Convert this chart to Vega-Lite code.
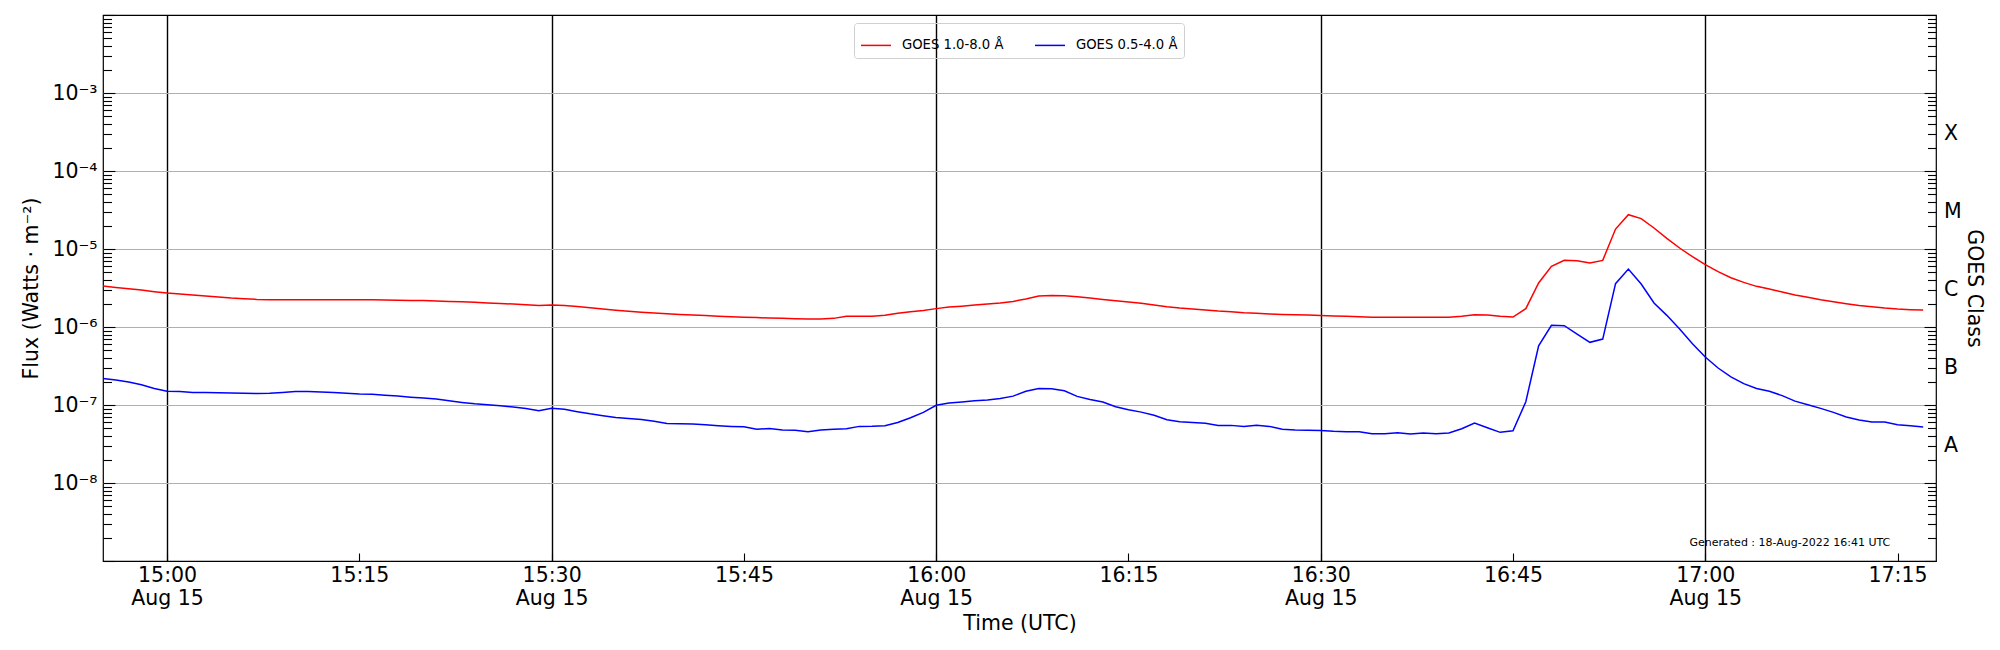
{
  "$schema": "https://vega.github.io/schema/vega-lite/v6.json",
  "width": 1833,
  "height": 546,
  "autosize": {"type": "none"},
  "padding": {"left": 103, "top": 15, "right": 64, "bottom": 89},
  "config": {
    "font": "DejaVu Sans",
    "view": {"stroke": "black", "strokeWidth": 1.2},
    "axis": {
      "domain": false,
      "labelFont": "DejaVu Sans",
      "titleFont": "DejaVu Sans",
      "labelColor": "black",
      "titleColor": "black",
      "titleFontWeight": "normal",
      "tickColor": "black",
      "tickWidth": 1.1
    }
  },
  "data": {
    "values": [
      {"t": "2022-08-15T14:55:00Z", "xrsb": 3.35e-6, "xrsa": 2.19e-7},
      {"t": "2022-08-15T14:56:00Z", "xrsb": 3.22e-6, "xrsa": 2.09e-7},
      {"t": "2022-08-15T14:57:00Z", "xrsb": 3.10e-6, "xrsa": 1.97e-7},
      {"t": "2022-08-15T14:58:00Z", "xrsb": 2.98e-6, "xrsa": 1.82e-7},
      {"t": "2022-08-15T14:59:00Z", "xrsb": 2.84e-6, "xrsa": 1.63e-7},
      {"t": "2022-08-15T15:00:00Z", "xrsb": 2.72e-6, "xrsa": 1.50e-7},
      {"t": "2022-08-15T15:01:00Z", "xrsb": 2.65e-6, "xrsa": 1.49e-7},
      {"t": "2022-08-15T15:02:00Z", "xrsb": 2.57e-6, "xrsa": 1.45e-7},
      {"t": "2022-08-15T15:03:00Z", "xrsb": 2.49e-6, "xrsa": 1.45e-7},
      {"t": "2022-08-15T15:04:00Z", "xrsb": 2.42e-6, "xrsa": 1.44e-7},
      {"t": "2022-08-15T15:05:00Z", "xrsb": 2.35e-6, "xrsa": 1.43e-7},
      {"t": "2022-08-15T15:06:00Z", "xrsb": 2.31e-6, "xrsa": 1.41e-7},
      {"t": "2022-08-15T15:07:00Z", "xrsb": 2.26e-6, "xrsa": 1.40e-7},
      {"t": "2022-08-15T15:08:00Z", "xrsb": 2.24e-6, "xrsa": 1.41e-7},
      {"t": "2022-08-15T15:09:00Z", "xrsb": 2.24e-6, "xrsa": 1.45e-7},
      {"t": "2022-08-15T15:10:00Z", "xrsb": 2.24e-6, "xrsa": 1.49e-7},
      {"t": "2022-08-15T15:11:00Z", "xrsb": 2.24e-6, "xrsa": 1.49e-7},
      {"t": "2022-08-15T15:12:00Z", "xrsb": 2.24e-6, "xrsa": 1.47e-7},
      {"t": "2022-08-15T15:13:00Z", "xrsb": 2.23e-6, "xrsa": 1.45e-7},
      {"t": "2022-08-15T15:14:00Z", "xrsb": 2.24e-6, "xrsa": 1.41e-7},
      {"t": "2022-08-15T15:15:00Z", "xrsb": 2.23e-6, "xrsa": 1.38e-7},
      {"t": "2022-08-15T15:16:00Z", "xrsb": 2.23e-6, "xrsa": 1.37e-7},
      {"t": "2022-08-15T15:17:00Z", "xrsb": 2.22e-6, "xrsa": 1.33e-7},
      {"t": "2022-08-15T15:18:00Z", "xrsb": 2.21e-6, "xrsa": 1.30e-7},
      {"t": "2022-08-15T15:19:00Z", "xrsb": 2.19e-6, "xrsa": 1.26e-7},
      {"t": "2022-08-15T15:20:00Z", "xrsb": 2.18e-6, "xrsa": 1.23e-7},
      {"t": "2022-08-15T15:21:00Z", "xrsb": 2.15e-6, "xrsa": 1.19e-7},
      {"t": "2022-08-15T15:22:00Z", "xrsb": 2.13e-6, "xrsa": 1.13e-7},
      {"t": "2022-08-15T15:23:00Z", "xrsb": 2.10e-6, "xrsa": 1.08e-7},
      {"t": "2022-08-15T15:24:00Z", "xrsb": 2.07e-6, "xrsa": 1.04e-7},
      {"t": "2022-08-15T15:25:00Z", "xrsb": 2.03e-6, "xrsa": 1.01e-7},
      {"t": "2022-08-15T15:26:00Z", "xrsb": 2.00e-6, "xrsa": 9.8e-8},
      {"t": "2022-08-15T15:27:00Z", "xrsb": 1.97e-6, "xrsa": 9.4e-8},
      {"t": "2022-08-15T15:28:00Z", "xrsb": 1.93e-6, "xrsa": 9.0e-8},
      {"t": "2022-08-15T15:29:00Z", "xrsb": 1.89e-6, "xrsa": 8.45e-8},
      {"t": "2022-08-15T15:30:00Z", "xrsb": 1.91e-6, "xrsa": 9.1e-8},
      {"t": "2022-08-15T15:31:00Z", "xrsb": 1.88e-6, "xrsa": 8.8e-8},
      {"t": "2022-08-15T15:32:00Z", "xrsb": 1.83e-6, "xrsa": 8.2e-8},
      {"t": "2022-08-15T15:33:00Z", "xrsb": 1.77e-6, "xrsa": 7.7e-8},
      {"t": "2022-08-15T15:34:00Z", "xrsb": 1.70e-6, "xrsa": 7.3e-8},
      {"t": "2022-08-15T15:35:00Z", "xrsb": 1.64e-6, "xrsa": 6.9e-8},
      {"t": "2022-08-15T15:36:00Z", "xrsb": 1.59e-6, "xrsa": 6.7e-8},
      {"t": "2022-08-15T15:37:00Z", "xrsb": 1.55e-6, "xrsa": 6.5e-8},
      {"t": "2022-08-15T15:38:00Z", "xrsb": 1.51e-6, "xrsa": 6.17e-8},
      {"t": "2022-08-15T15:39:00Z", "xrsb": 1.48e-6, "xrsa": 5.8e-8},
      {"t": "2022-08-15T15:40:00Z", "xrsb": 1.45e-6, "xrsa": 5.75e-8},
      {"t": "2022-08-15T15:41:00Z", "xrsb": 1.42e-6, "xrsa": 5.7e-8},
      {"t": "2022-08-15T15:42:00Z", "xrsb": 1.40e-6, "xrsa": 5.58e-8},
      {"t": "2022-08-15T15:43:00Z", "xrsb": 1.37e-6, "xrsa": 5.43e-8},
      {"t": "2022-08-15T15:44:00Z", "xrsb": 1.35e-6, "xrsa": 5.32e-8},
      {"t": "2022-08-15T15:45:00Z", "xrsb": 1.33e-6, "xrsa": 5.25e-8},
      {"t": "2022-08-15T15:46:00Z", "xrsb": 1.32e-6, "xrsa": 4.88e-8},
      {"t": "2022-08-15T15:47:00Z", "xrsb": 1.30e-6, "xrsa": 5.0e-8},
      {"t": "2022-08-15T15:48:00Z", "xrsb": 1.29e-6, "xrsa": 4.77e-8},
      {"t": "2022-08-15T15:49:00Z", "xrsb": 1.28e-6, "xrsa": 4.75e-8},
      {"t": "2022-08-15T15:50:00Z", "xrsb": 1.27e-6, "xrsa": 4.55e-8},
      {"t": "2022-08-15T15:51:00Z", "xrsb": 1.27e-6, "xrsa": 4.77e-8},
      {"t": "2022-08-15T15:52:00Z", "xrsb": 1.29e-6, "xrsa": 4.9e-8},
      {"t": "2022-08-15T15:53:00Z", "xrsb": 1.37e-6, "xrsa": 4.96e-8},
      {"t": "2022-08-15T15:54:00Z", "xrsb": 1.37e-6, "xrsa": 5.32e-8},
      {"t": "2022-08-15T15:55:00Z", "xrsb": 1.37e-6, "xrsa": 5.35e-8},
      {"t": "2022-08-15T15:56:00Z", "xrsb": 1.41e-6, "xrsa": 5.43e-8},
      {"t": "2022-08-15T15:57:00Z", "xrsb": 1.50e-6, "xrsa": 5.98e-8},
      {"t": "2022-08-15T15:58:00Z", "xrsb": 1.57e-6, "xrsa": 6.87e-8},
      {"t": "2022-08-15T15:59:00Z", "xrsb": 1.63e-6, "xrsa": 8.05e-8},
      {"t": "2022-08-15T16:00:00Z", "xrsb": 1.72e-6, "xrsa": 9.9e-8},
      {"t": "2022-08-15T16:01:00Z", "xrsb": 1.80e-6, "xrsa": 1.06e-7},
      {"t": "2022-08-15T16:02:00Z", "xrsb": 1.85e-6, "xrsa": 1.09e-7},
      {"t": "2022-08-15T16:03:00Z", "xrsb": 1.91e-6, "xrsa": 1.13e-7},
      {"t": "2022-08-15T16:04:00Z", "xrsb": 1.97e-6, "xrsa": 1.16e-7},
      {"t": "2022-08-15T16:05:00Z", "xrsb": 2.03e-6, "xrsa": 1.21e-7},
      {"t": "2022-08-15T16:06:00Z", "xrsb": 2.13e-6, "xrsa": 1.30e-7},
      {"t": "2022-08-15T16:07:00Z", "xrsb": 2.28e-6, "xrsa": 1.50e-7},
      {"t": "2022-08-15T16:08:00Z", "xrsb": 2.49e-6, "xrsa": 1.63e-7},
      {"t": "2022-08-15T16:09:00Z", "xrsb": 2.54e-6, "xrsa": 1.62e-7},
      {"t": "2022-08-15T16:10:00Z", "xrsb": 2.52e-6, "xrsa": 1.52e-7},
      {"t": "2022-08-15T16:11:00Z", "xrsb": 2.44e-6, "xrsa": 1.29e-7},
      {"t": "2022-08-15T16:12:00Z", "xrsb": 2.35e-6, "xrsa": 1.18e-7},
      {"t": "2022-08-15T16:13:00Z", "xrsb": 2.26e-6, "xrsa": 1.09e-7},
      {"t": "2022-08-15T16:14:00Z", "xrsb": 2.17e-6, "xrsa": 9.5e-8},
      {"t": "2022-08-15T16:15:00Z", "xrsb": 2.09e-6, "xrsa": 8.7e-8},
      {"t": "2022-08-15T16:16:00Z", "xrsb": 2.01e-6, "xrsa": 8.1e-8},
      {"t": "2022-08-15T16:17:00Z", "xrsb": 1.91e-6, "xrsa": 7.37e-8},
      {"t": "2022-08-15T16:18:00Z", "xrsb": 1.82e-6, "xrsa": 6.48e-8},
      {"t": "2022-08-15T16:19:00Z", "xrsb": 1.75e-6, "xrsa": 6.1e-8},
      {"t": "2022-08-15T16:20:00Z", "xrsb": 1.70e-6, "xrsa": 5.98e-8},
      {"t": "2022-08-15T16:21:00Z", "xrsb": 1.65e-6, "xrsa": 5.82e-8},
      {"t": "2022-08-15T16:22:00Z", "xrsb": 1.60e-6, "xrsa": 5.48e-8},
      {"t": "2022-08-15T16:23:00Z", "xrsb": 1.57e-6, "xrsa": 5.48e-8},
      {"t": "2022-08-15T16:24:00Z", "xrsb": 1.52e-6, "xrsa": 5.32e-8},
      {"t": "2022-08-15T16:25:00Z", "xrsb": 1.50e-6, "xrsa": 5.48e-8},
      {"t": "2022-08-15T16:26:00Z", "xrsb": 1.47e-6, "xrsa": 5.32e-8},
      {"t": "2022-08-15T16:27:00Z", "xrsb": 1.45e-6, "xrsa": 4.88e-8},
      {"t": "2022-08-15T16:28:00Z", "xrsb": 1.44e-6, "xrsa": 4.77e-8},
      {"t": "2022-08-15T16:29:00Z", "xrsb": 1.42e-6, "xrsa": 4.75e-8},
      {"t": "2022-08-15T16:30:00Z", "xrsb": 1.40e-6, "xrsa": 4.7e-8},
      {"t": "2022-08-15T16:31:00Z", "xrsb": 1.38e-6, "xrsa": 4.6e-8},
      {"t": "2022-08-15T16:32:00Z", "xrsb": 1.37e-6, "xrsa": 4.55e-8},
      {"t": "2022-08-15T16:33:00Z", "xrsb": 1.35e-6, "xrsa": 4.55e-8},
      {"t": "2022-08-15T16:34:00Z", "xrsb": 1.33e-6, "xrsa": 4.28e-8},
      {"t": "2022-08-15T16:35:00Z", "xrsb": 1.33e-6, "xrsa": 4.28e-8},
      {"t": "2022-08-15T16:36:00Z", "xrsb": 1.33e-6, "xrsa": 4.41e-8},
      {"t": "2022-08-15T16:37:00Z", "xrsb": 1.33e-6, "xrsa": 4.25e-8},
      {"t": "2022-08-15T16:38:00Z", "xrsb": 1.33e-6, "xrsa": 4.37e-8},
      {"t": "2022-08-15T16:39:00Z", "xrsb": 1.33e-6, "xrsa": 4.28e-8},
      {"t": "2022-08-15T16:40:00Z", "xrsb": 1.33e-6, "xrsa": 4.37e-8},
      {"t": "2022-08-15T16:41:00Z", "xrsb": 1.37e-6, "xrsa": 4.97e-8},
      {"t": "2022-08-15T16:42:00Z", "xrsb": 1.44e-6, "xrsa": 5.87e-8},
      {"t": "2022-08-15T16:43:00Z", "xrsb": 1.43e-6, "xrsa": 5.12e-8},
      {"t": "2022-08-15T16:44:00Z", "xrsb": 1.37e-6, "xrsa": 4.46e-8},
      {"t": "2022-08-15T16:45:00Z", "xrsb": 1.34e-6, "xrsa": 4.68e-8},
      {"t": "2022-08-15T16:46:00Z", "xrsb": 1.72e-6, "xrsa": 1.10e-7},
      {"t": "2022-08-15T16:47:00Z", "xrsb": 3.67e-6, "xrsa": 5.75e-7},
      {"t": "2022-08-15T16:48:00Z", "xrsb": 5.99e-6, "xrsa": 1.05e-6},
      {"t": "2022-08-15T16:49:00Z", "xrsb": 7.15e-6, "xrsa": 1.04e-6},
      {"t": "2022-08-15T16:50:00Z", "xrsb": 7.08e-6, "xrsa": 8.1e-7},
      {"t": "2022-08-15T16:51:00Z", "xrsb": 6.6e-6, "xrsa": 6.36e-7},
      {"t": "2022-08-15T16:52:00Z", "xrsb": 7.15e-6, "xrsa": 7.0e-7},
      {"t": "2022-08-15T16:53:00Z", "xrsb": 1.80e-5, "xrsa": 3.59e-6},
      {"t": "2022-08-15T16:54:00Z", "xrsb": 2.75e-5, "xrsa": 5.53e-6},
      {"t": "2022-08-15T16:55:00Z", "xrsb": 2.45e-5, "xrsa": 3.56e-6},
      {"t": "2022-08-15T16:56:00Z", "xrsb": 1.86e-5, "xrsa": 2.03e-6},
      {"t": "2022-08-15T16:57:00Z", "xrsb": 1.37e-5, "xrsa": 1.41e-6},
      {"t": "2022-08-15T16:58:00Z", "xrsb": 1.03e-5, "xrsa": 9.4e-7},
      {"t": "2022-08-15T16:59:00Z", "xrsb": 7.96e-6, "xrsa": 6.1e-7},
      {"t": "2022-08-15T17:00:00Z", "xrsb": 6.29e-6, "xrsa": 4.12e-7},
      {"t": "2022-08-15T17:01:00Z", "xrsb": 5.12e-6, "xrsa": 2.98e-7},
      {"t": "2022-08-15T17:02:00Z", "xrsb": 4.28e-6, "xrsa": 2.29e-7},
      {"t": "2022-08-15T17:03:00Z", "xrsb": 3.73e-6, "xrsa": 1.88e-7},
      {"t": "2022-08-15T17:04:00Z", "xrsb": 3.32e-6, "xrsa": 1.63e-7},
      {"t": "2022-08-15T17:05:00Z", "xrsb": 3.07e-6, "xrsa": 1.50e-7},
      {"t": "2022-08-15T17:06:00Z", "xrsb": 2.81e-6, "xrsa": 1.32e-7},
      {"t": "2022-08-15T17:07:00Z", "xrsb": 2.57e-6, "xrsa": 1.12e-7},
      {"t": "2022-08-15T17:08:00Z", "xrsb": 2.40e-6, "xrsa": 1.01e-7},
      {"t": "2022-08-15T17:09:00Z", "xrsb": 2.24e-6, "xrsa": 9.06e-8},
      {"t": "2022-08-15T17:10:00Z", "xrsb": 2.11e-6, "xrsa": 8.05e-8},
      {"t": "2022-08-15T17:11:00Z", "xrsb": 1.99e-6, "xrsa": 7.02e-8},
      {"t": "2022-08-15T17:12:00Z", "xrsb": 1.89e-6, "xrsa": 6.42e-8},
      {"t": "2022-08-15T17:13:00Z", "xrsb": 1.82e-6, "xrsa": 6.05e-8},
      {"t": "2022-08-15T17:14:00Z", "xrsb": 1.75e-6, "xrsa": 6.05e-8},
      {"t": "2022-08-15T17:15:00Z", "xrsb": 1.70e-6, "xrsa": 5.59e-8},
      {"t": "2022-08-15T17:16:00Z", "xrsb": 1.67e-6, "xrsa": 5.43e-8},
      {"t": "2022-08-15T17:17:00Z", "xrsb": 1.65e-6, "xrsa": 5.22e-8}
    ]
  },
  "layer": [
    {
      "transform": [{"fold": ["xrsb", "xrsa"], "as": ["channel", "flux"]}],
      "mark": {"type": "line", "strokeWidth": 1.5},
      "encoding": {
        "x": {
          "field": "t",
          "type": "temporal",
          "scale": {
            "type": "utc",
            "domain": [
              {"year": 2022, "month": 8, "date": 15, "hours": 14, "minutes": 55, "utc": true},
              {"year": 2022, "month": 8, "date": 15, "hours": 17, "minutes": 18, "utc": true}
            ]
          },
          "axis": {
            "title": "Time (UTC)",
            "titleFontSize": 20.5,
            "titlePadding": 5,
            "values": [
              {"year": 2022, "month": 8, "date": 15, "hours": 15, "minutes": 0, "utc": true},
              {"year": 2022, "month": 8, "date": 15, "hours": 15, "minutes": 15, "utc": true},
              {"year": 2022, "month": 8, "date": 15, "hours": 15, "minutes": 30, "utc": true},
              {"year": 2022, "month": 8, "date": 15, "hours": 15, "minutes": 45, "utc": true},
              {"year": 2022, "month": 8, "date": 15, "hours": 16, "minutes": 0, "utc": true},
              {"year": 2022, "month": 8, "date": 15, "hours": 16, "minutes": 15, "utc": true},
              {"year": 2022, "month": 8, "date": 15, "hours": 16, "minutes": 30, "utc": true},
              {"year": 2022, "month": 8, "date": 15, "hours": 16, "minutes": 45, "utc": true},
              {"year": 2022, "month": 8, "date": 15, "hours": 17, "minutes": 0, "utc": true},
              {"year": 2022, "month": 8, "date": 15, "hours": 17, "minutes": 15, "utc": true}
            ],
            "labelExpr": "utcminutes(datum.value) % 30 == 0 ? [utcFormat(datum.value, '%H:%M'), utcFormat(datum.value, '%b %d')] : utcFormat(datum.value, '%H:%M')",
            "labelFontSize": 20.5,
            "labelLineHeight": 23,
            "labelPadding": 12,
            "labelFlush": false,
            "labelOverlap": false,
            "tickSize": -8,
            "grid": true,
            "gridColor": "black",
            "gridWidth": 1.4,
            "gridOpacity": {"condition": {"test": "utcminutes(datum.value) % 30 == 0", "value": 1}, "value": 0}
          }
        },
        "y": {
          "field": "flux",
          "type": "quantitative",
          "scale": {"type": "log", "domain": [1e-9, 1e-2]},
          "axis": {
            "title": "Flux (Watts · m⁻²)",
            "titleFontSize": 20.5,
            "titlePadding": 10,
            "values": [1e-9, 2e-9, 3e-9, 4e-9, 5e-9, 6e-9, 7e-9, 8e-9, 9e-9, 1e-8, 2e-8, 3e-8, 4e-8, 5e-8, 6e-8, 7e-8, 8e-8, 9e-8, 1e-7, 2e-7, 3e-7, 4e-7, 5e-7, 6e-7, 7e-7, 8e-7, 9e-7, 1e-6, 2e-6, 3e-6, 4e-6, 5e-6, 6e-6, 7e-6, 8e-6, 9e-6, 1e-5, 2e-5, 3e-5, 4e-5, 5e-5, 6e-5, 7e-5, 8e-5, 9e-5, 1e-4, 2e-4, 3e-4, 4e-4, 5e-4, 6e-4, 7e-4, 8e-4, 9e-4, 1e-3, 2e-3, 3e-3, 4e-3, 5e-3, 6e-3, 7e-3, 8e-3, 9e-3, 1e-2],
            "labelExpr": "abs(log(datum.value)/LN10 - round(log(datum.value)/LN10)) < 0.001 && datum.value > 5e-9 && datum.value < 5e-3 ? '10⁻' + ['', '', '', '³', '⁴', '⁵', '⁶', '⁷', '⁸'][-round(log(datum.value)/LN10)] : ''",
            "labelFontSize": 20.5,
            "labelPadding": 18,
            "labelFlush": false,
            "labelOverlap": false,
            "tickSize": {"condition": {"test": "abs(log(datum.value)/LN10 - round(log(datum.value)/LN10)) < 0.001", "value": -12}, "value": -8.5},
            "grid": true,
            "gridColor": "#b0b0b0",
            "gridWidth": 1.1,
            "gridOpacity": {"condition": {"test": "abs(log(datum.value)/LN10 - round(log(datum.value)/LN10)) < 0.001 && datum.value > 5e-9 && datum.value < 5e-3", "value": 1}, "value": 0}
          }
        },
        "color": {
          "field": "channel",
          "type": "nominal",
          "scale": {"domain": ["xrsb", "xrsa"], "range": ["#ff0000", "#0000ff"]},
          "legend": {
            "title": null,
            "orient": "none",
            "legendX": 751,
            "legendY": 8,
            "direction": "horizontal",
            "symbolType": "stroke",
            "symbolStrokeWidth": 1.5,
            "symbolSize": 900,
            "labelFont": "DejaVu Sans",
            "labelFontSize": 13.2,
            "labelColor": "black",
            "labelOffset": 10,
            "labelLimit": 0,
            "columnPadding": 28,
            "padding": 6,
            "cornerRadius": 3,
            "strokeColor": "#d0d0d0",
            "labelExpr": "datum.value == 'xrsb' ? 'GOES 1.0-8.0 Å' : 'GOES 0.5-4.0 Å'"
          }
        }
      }
    },
    {
      "data": {"values": [{}]},
      "mark": {"type": "text", "font": "DejaVu Sans", "fontSize": 11, "color": "black", "baseline": "middle", "align": "center"},
      "encoding": {
        "x": {"datum": {"year": 2022, "month": 8, "date": 15, "hours": 17, "minutes": 6, "seconds": 36, "utc": true}, "type": "temporal"},
        "y": {
          "datum": 1.68e-9,
          "type": "quantitative",
          "axis": {
            "orient": "right",
            "title": "GOES Class",
            "titleFontSize": 20.5,
            "titlePadding": 2,
            "values": [1e-9, 2e-9, 3e-9, 4e-9, 5e-9, 6e-9, 7e-9, 8e-9, 9e-9, 1e-8, 2e-8, 3e-8, 4e-8, 5e-8, 6e-8, 7e-8, 8e-8, 9e-8, 1e-7, 2e-7, 3e-7, 4e-7, 5e-7, 6e-7, 7e-7, 8e-7, 9e-7, 1e-6, 2e-6, 3e-6, 4e-6, 5e-6, 6e-6, 7e-6, 8e-6, 9e-6, 1e-5, 2e-5, 3e-5, 4e-5, 5e-5, 6e-5, 7e-5, 8e-5, 9e-5, 1e-4, 2e-4, 3e-4, 4e-4, 5e-4, 6e-4, 7e-4, 8e-4, 9e-4, 1e-3, 2e-3, 3e-3, 4e-3, 5e-3, 6e-3, 7e-3, 8e-3, 9e-3, 1e-2],
            "labelExpr": "round(log(datum.value)/LN10*100) == -352 ? 'X' : round(log(datum.value)/LN10*100) == -452 ? 'M' : round(log(datum.value)/LN10*100) == -552 ? 'C' : round(log(datum.value)/LN10*100) == -652 ? 'B' : round(log(datum.value)/LN10*100) == -752 ? 'A' : ''",
            "labelFontSize": 20.5,
            "labelPadding": 16,
            "labelFlush": false,
            "labelOverlap": false,
            "tickSize": {"condition": {"test": "abs(log(datum.value)/LN10 - round(log(datum.value)/LN10)) < 0.001", "value": -12}, "value": -8.5},
            "grid": false
          }
        },
        "text": {"value": "Generated : 18-Aug-2022 16:41 UTC"}
      }
    }
  ],
  "resolve": {"axis": {"y": "independent"}}
}
